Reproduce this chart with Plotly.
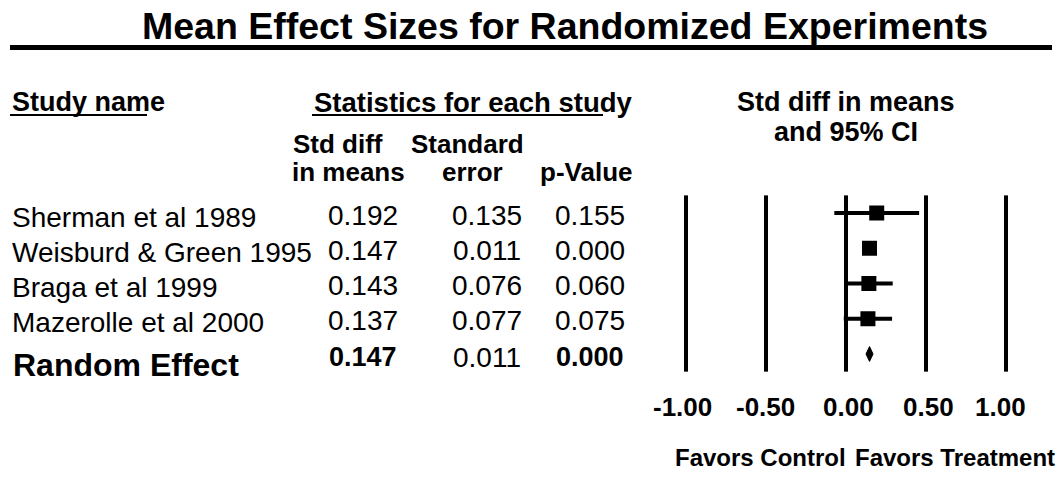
import plotly.graph_objects as go

# ---- data ----
study_names = ["Sherman et al 1989", "Weisburd & Green 1995", "Braga et al 1999", "Mazerolle et al 2000"]
std_diff = [0.192, 0.147, 0.143, 0.137]
std_err = [0.135, 0.011, 0.076, 0.077]
p_values = [0.155, 0.000, 0.060, 0.075]
ci_lower = [-0.073, 0.125, -0.006, -0.014]
ci_upper = [0.457, 0.169, 0.292, 0.288]

summary_label = "Random Effect"
summary_diff = 0.147
summary_se = 0.011
summary_p = 0.000
summary_lower = 0.125
summary_upper = 0.169

tick_vals = [-1.0, -0.5, 0.0, 0.5, 1.0]
tick_text = ["-1.00", "-0.50", "0.00", "0.50", "1.00"]

W, H = 1064, 501
FONT = "Liberation Sans, Arial, sans-serif"


def px(x):
    return x / W


def py(y):
    return 1 - y / H


fig = go.Figure()

rows = list(range(len(study_names)))
summary_row = len(study_names)

# study squares with CI
fig.add_trace(go.Scatter(
    x=std_diff, y=rows, mode="markers",
    marker=dict(symbol="square", size=15, color="black"),
    error_x=dict(type="data", symmetric=False,
                 array=[u - d for u, d in zip(ci_upper, std_diff)],
                 arrayminus=[d - l for l, d in zip(ci_lower, std_diff)],
                 thickness=4, width=0, color="black"),
    showlegend=False, hoverinfo="skip"))

# summary diamond
dh = 0.21
fig.add_trace(go.Scatter(
    x=[summary_lower, summary_diff, summary_upper, summary_diff, summary_lower],
    y=[summary_row, summary_row - dh, summary_row, summary_row + dh, summary_row],
    mode="lines", fill="toself", fillcolor="black",
    line=dict(color="black", width=1), showlegend=False, hoverinfo="skip"))

shapes = []
for v in tick_vals:
    shapes.append(dict(type="line", xref="x", yref="y", x0=v, x1=v,
                       y0=-0.5, y1=summary_row + 0.5,
                       line=dict(color="black", width=4)))
# title rule
shapes.append(dict(type="line", xref="paper", yref="paper",
                   x0=px(10), x1=px(1052), y0=py(47.5), y1=py(47.5),
                   line=dict(color="black", width=5)))
# header underlines
for a, b in [(10, 147), (312, 603)]:
    shapes.append(dict(type="line", xref="paper", yref="paper",
                       x0=px(a), x1=px(b), y0=py(115), y1=py(115),
                       line=dict(color="black", width=2)))

ann = []


def text(x, y, s, size, bold=False, xanchor="center"):
    ann.append(dict(xref="paper", yref="paper", x=px(x), y=py(y),
                    text=f"<b>{s}</b>" if bold else s, showarrow=False,
                    xanchor=xanchor, yanchor="middle",
                    font=dict(family=FONT, size=size, color="black")))


text(565, 25.5, "Mean Effect Sizes for Randomized Experiments", 37.5, True)
text(10, 102, "Study name", 27, True, "left")
text(312, 102, "Statistics for each study", 27.5, True, "left")
text(846, 102, "Std diff in means", 27, True)
text(846, 132, "and 95% CI", 27, True)
text(338, 144, "Std diff", 26, True)
text(467, 144, "Standard", 26, True)
text(348, 172, "in means", 26, True)
text(472, 172, "error", 26, True)
text(586, 172, "p-Value", 26, True)

col_x = [363, 487, 590]
for r, name in enumerate(study_names):
    ann.append(dict(xref="paper", yref="y", x=px(10), y=r, yshift=-4,
                    text=name, showarrow=False, xanchor="left", yanchor="middle",
                    font=dict(family=FONT, size=28, color="black")))
    for cx, val in zip(col_x, [std_diff[r], std_err[r], p_values[r]]):
        ann.append(dict(xref="paper", yref="y", x=px(cx), y=r, yshift=-2,
                        text=f"{val:.3f}", showarrow=False, xanchor="center", yanchor="middle",
                        font=dict(family=FONT, size=28, color="black")))

ann.append(dict(xref="paper", yref="y", x=px(11), y=summary_row, yshift=-11,
                text=f"<b>{summary_label}</b>", showarrow=False, xanchor="left", yanchor="middle",
                font=dict(family=FONT, size=32, color="black")))
for cx, val, b in zip(col_x, [summary_diff, summary_se, summary_p], [True, False, True]):
    s = f"{val:.3f}"
    ann.append(dict(xref="paper", yref="y", x=px(cx), y=summary_row, yshift=-3,
                    text=f"<b>{s}</b>" if b else s, showarrow=False, xanchor="center", yanchor="middle",
                    font=dict(family=FONT, size=27 if b else 28, color="black")))

label_shift = [-4, -1, 2, 2, -6]
for v, t, sh in zip(tick_vals, tick_text, label_shift):
    ann.append(dict(xref="x", yref="paper", x=v, y=py(407), xshift=sh, text=f"<b>{t}</b>",
                    showarrow=False, xanchor="center", yanchor="middle",
                    font=dict(family=FONT, size=26, color="black")))

text(760, 457, "Favors Control", 24, True)
text(955, 457, "Favors Treatment", 24, True)

fig.update_layout(
    width=W, height=H, margin=dict(l=0, r=0, t=0, b=0),
    paper_bgcolor="white", plot_bgcolor="white",
    xaxis=dict(range=[(0 - 846) / 160, (W - 846) / 160], visible=False, fixedrange=True),
    yaxis=dict(range=[(H - 213) / 35.25, -213 / 35.25], visible=False, fixedrange=True),
    shapes=shapes, annotations=ann, showlegend=False,
)

fig.write_html("out.html",
               config={"displayModeBar": False, "staticPlot": True},
               post_script="document.body.style.margin='0';document.body.style.overflow='hidden';")
